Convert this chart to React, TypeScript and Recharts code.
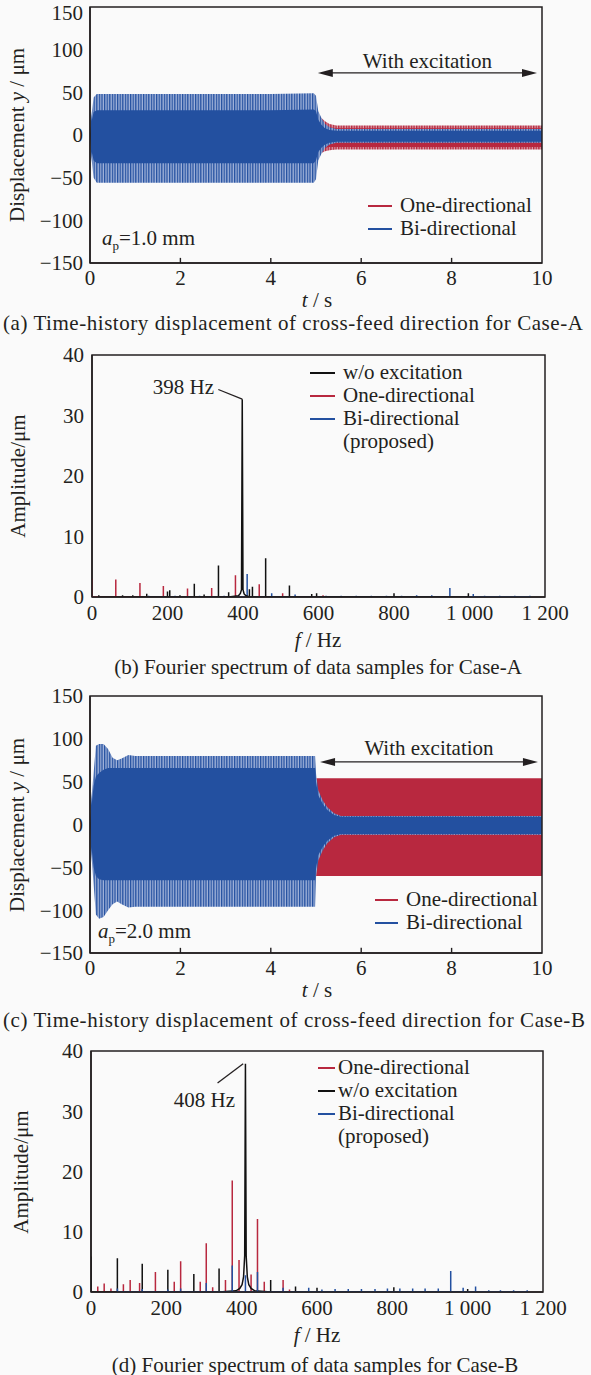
import React from 'react';
import {
  ComposedChart,
  Area,
  Line,
  XAxis,
  YAxis,
  ReferenceArea,
  ReferenceLine,
  Legend,
} from 'recharts';

const FONT = "'Liberation Serif', 'Times New Roman', serif";
const INK = '#231f20';
const RED = '#b8283f';
const BLUE = '#2350a0';
const BLACK = '#111111';

// ---------- (a) Case-A time history, envelopes (µm) ----------
const tA_blue = [0, 0.03, 0.08, 0.15, 1, 2, 3, 4, 4.95, 5.0, 5.05, 5.12, 5.2, 5.3, 5.45, 6, 8, 10];
const hiA_blueSpikes = [0, 22, 44, 48, 48, 48, 48, 48, 49, 46, 28, 20, 13, 9, 7, 7, 7, 7];
const loA_blueSpikes = [0, -26, -50, -56, -56, -56, -56, -56, -56, -52, -30, -22, -15, -11, -9, -9, -9, -9];
const hiA_blueCore = [0, 15, 27, 29, 29, 29, 29, 29, 30, 28, 18, 12, 8, 6, 5, 5, 5, 5];
const loA_blueCore = [0, -18, -30, -33, -33, -33, -33, -33, -33, -30, -20, -15, -11, -9, -8, -8, -8, -8];

const tA_red = [4.98, 5.05, 5.12, 5.2, 5.3, 5.45, 6, 8, 10];
const hiA_redSpikes = [30, 24, 20, 16, 13, 11, 11, 11, 11];
const loA_redSpikes = [-30, -23, -21, -19, -18, -17, -17, -17, -17];
const hiA_redCore = [22, 17, 14, 11, 9, 8, 8, 8, 8];
const loA_redCore = [-22, -18, -16, -15, -14, -14, -14, -14, -14];

// ---------- (c) Case-B time history ----------
const tC_blue = [0, 0.03, 0.08, 0.13, 0.2, 0.3, 0.4, 0.5, 0.6, 0.7, 0.85, 1, 2, 3, 4, 4.98, 5.0, 5.05, 5.15, 5.25, 5.4, 5.55, 6, 8, 10];
const hiC_blueSpikes = [0, 30, 60, 92, 94, 94, 88, 78, 75, 77, 81, 80, 80, 80, 80, 80, 60, 40, 28, 20, 13, 10, 10, 10, 10];
const loC_blueSpikes = [0, -35, -70, -105, -110, -108, -100, -93, -90, -93, -97, -96, -96, -96, -96, -96, -62, -42, -30, -22, -15, -12, -12, -12, -12];
const hiC_blueCore = [0, 20, 45, 56, 60, 64, 66, 66, 66, 66, 66, 66, 66, 66, 66, 66, 50, 34, 24, 17, 11, 9, 9, 9, 9];
const loC_blueCore = [0, -25, -50, -60, -64, -65, -65, -65, -65, -65, -65, -65, -65, -65, -65, -65, -52, -36, -26, -19, -13, -11, -11, -11, -11];

const tC_red = [5.0, 6, 8, 10];
const hiC_red = [54, 54, 54, 54];
const loC_red = [-60, -60, -60, -60];

const timeTicks = [0, 2, 4, 6, 8, 10];
const innerTimeTicks = [2, 4, 6, 8];
const dispTicks = [-150, -100, -50, 0, 50, 100, 150];

// ---------- (b) Case-A spectrum (peak frequency Hz, amplitude µm) ----------
const fB_red = [0, 63, 127, 189, 253, 317, 380, 443, 505, 612];
const aB_red = [3.0, 2.9, 2.3, 1.8, 1.4, 1.5, 3.6, 2.1, 0.6, 0.3];
const fB_black = [18, 81, 108, 145, 200, 206, 233, 271, 297, 335, 362, 417, 425, 460, 523, 582, 595, 800, 997];
const aB_black = [0.3, 0.3, 0.3, 0.55, 0.9, 1.1, 0.3, 2.2, 0.4, 5.2, 0.8, 1.3, 1.7, 6.4, 1.9, 0.5, 0.6, 0.6, 0.6];
const fB_blackPeak = [388, 393, 396, 398, 400, 403, 408];
const aB_blackPeak = [0.2, 0.6, 1.2, 32.7, 1.2, 0.5, 0.2];
const fB_blue = [150, 220, 285, 350, 411, 476, 538, 620, 660, 700, 740, 780, 820, 860, 900, 948, 1010, 1040, 1080, 1120, 1160];
const aB_blue = [0.2, 0.2, 0.2, 0.2, 3.8, 0.6, 0.4, 0.2, 0.2, 0.2, 0.2, 0.2, 0.2, 0.3, 0.3, 1.5, 0.5, 0.2, 0.2, 0.2, 0.2];

// ---------- (d) Case-B spectrum ----------
const fD_red = [18, 35, 53, 86, 104, 129, 171, 221, 238, 290, 306, 323, 357, 375, 393, 425, 442, 460, 510, 527];
const aD_red = [0.9, 1.4, 0.6, 1.3, 2.0, 1.5, 3.3, 1.7, 5.1, 1.7, 8.1, 0.8, 2.0, 18.5, 5.3, 2.9, 12.1, 1.7, 2.0, 0.4];
const fD_black = [0, 70, 136, 204, 273, 340, 477, 543, 600, 804, 1000];
const aD_black = [5.9, 5.6, 4.7, 3.7, 3.0, 3.9, 2.0, 0.9, 0.7, 0.8, 0.5];
const fD_blackPeak = [385, 395, 401, 405, 408, 410, 412, 415, 419, 425, 435];
const aD_blackPeak = [0.2, 0.6, 1.2, 2.5, 6, 37.9, 6, 2.5, 1.2, 0.6, 0.2];
const fD_blue = [70, 136, 204, 238, 306, 375, 410, 442, 510, 578, 613, 648, 683, 718, 754, 787, 820, 854, 887, 922, 955, 988, 1021, 1056, 1087, 1122, 1158];
const aD_blue = [0.6, 0.5, 0.4, 0.6, 1.5, 4.4, 2.8, 3.3, 0.7, 0.7, 0.4, 0.5, 0.5, 0.5, 0.5, 0.6, 0.6, 0.6, 0.6, 0.6, 3.5, 0.7, 0.9, 0.3, 0.3, 0.3, 0.3];

const freqTicks = [0, 200, 400, 600, 800, 1000, 1200];
const freqTickLabels = ['0', '200', '400', '600', '800', '1 000', '1 200'];
const ampTicks = [0, 10, 20, 30, 40];

// helpers that turn the arrays into the rows recharts wants
const band = (t: number[], lo: number[], hi: number[]) => t.map((x, i) => ({ t: x, v: [lo[i], hi[i]] }));
const stems = (f: number[], a: number[]) =>
  f.flatMap((x, i) => [{ f: x, a: 0 }, { f: x, a: a[i] }, { f: x, a: 0 }]);
const profile = (f: number[], a: number[]) => f.map((x, i) => ({ f: x, a: a[i] }));
const merge = (...parts: { f: number; a: number }[][]) => parts.flat().sort((p, q) => p.f - q.f);

const minus = (v: number) => (v < 0 ? `\u2212${Math.abs(v)}` : String(v));
const tickStyle = { fontSize: 21, fill: INK, fontFamily: FONT };

const Txt = ({ x, y, anchor = 'middle', rotate = false, children, size = 21, spacing = 0 }: any) => {
  const tx = anchor === 'middle' ? '-50%' : anchor === 'end' ? '-100%' : '0';
  return (
    <div
      style={{
        position: 'absolute',
        left: x,
        top: y,
        transform: `translate(${tx}, -50%)${rotate ? ' rotate(-90deg)' : ''}`,
        transformOrigin: rotate ? '50% 50%' : undefined,
        fontFamily: FONT,
        fontSize: size,
        letterSpacing: spacing,
        color: INK,
        whiteSpace: 'nowrap',
        lineHeight: 1,
      }}
    >
      {children}
    </div>
  );
};

const LegendBox = ({ items, lineW, gap, rowH }: any) => (
  <div style={{ fontFamily: FONT, fontSize: 21, color: INK, lineHeight: `${rowH}px` }}>
    {items.map((it: any) => (
      <div key={it.name} style={{ display: 'flex', alignItems: 'center', whiteSpace: 'nowrap' }}>
        <div
          style={{
            width: lineW,
            minWidth: lineW,
            height: 2,
            background: it.color || 'transparent',
            marginRight: gap,
            flex: 'none',
          }}
        />
        <span>{it.name}</span>
      </div>
    ))}
  </div>
);

const ArrowLine = (p: any) => {
  const { x1, y1, x2, y2 } = p;
  return (
    <g>
      <line x1={x1 + 8} y1={y1} x2={x2 - 8} y2={y2} stroke={INK} strokeWidth={1.3} />
      <polygon points={`${x1},${y1} ${x1 + 15},${y1 - 4} ${x1 + 15},${y1 + 4}`} fill={INK} />
      <polygon points={`${x2},${y2} ${x2 - 15},${y2 - 4} ${x2 - 15},${y2 + 4}`} fill={INK} />
    </g>
  );
};

const W = 591;

function TimeChart({ id, top, mt, plotH, left, right, blueSpikes, blueCore, redSpikes, redCore, arrowY, arrowFrom, arrowTo, labelOffset, legendTop, legendLeft, legendLineW }: any) {
  const height = mt + plotH + 50;
  return (
    <div style={{ position: 'absolute', left: 0, top }}>
      <ComposedChart width={W} height={height} margin={{ top: mt, right: W - right, bottom: 0, left: 0 }}>
        <defs>
          <pattern id={`${id}-bs`} width="2.6" height="8" patternUnits="userSpaceOnUse">
            <rect width="2.6" height="8" fill="#a3b4da" />
            <rect width="1.3" height="8" fill={BLUE} />
          </pattern>
          <pattern id={`${id}-rs`} width="2.6" height="8" patternUnits="userSpaceOnUse">
            <rect width="2.6" height="8" fill="#dba0aa" />
            <rect width="1.4" height="8" fill={RED} />
          </pattern>
        </defs>
        <XAxis
          type="number"
          dataKey="t"
          domain={[0, 10]}
          ticks={timeTicks}
          allowDataOverflow
          height={50}
          tick={tickStyle}
          tickLine={false}
          tickSize={0}
          tickMargin={7}
          axisLine={{ stroke: INK, strokeWidth: 1.5 }}
        />
        <YAxis
          type="number"
          domain={[-150, 150]}
          ticks={dispTicks}
          allowDataOverflow
          width={left}
          tick={tickStyle}
          tickFormatter={minus}
          tickLine={false}
          tickSize={0}
          tickMargin={7}
          axisLine={{ stroke: INK, strokeWidth: 1.5 }}
        />
        {redSpikes && (
          <Area data={redSpikes} dataKey="v" type="linear" stroke="none" fill={`url(#${id}-rs)`} fillOpacity={1} isAnimationActive={false} />
        )}
        <Area data={redCore} dataKey="v" type="linear" stroke="none" fill={RED} fillOpacity={1} isAnimationActive={false} />
        <Area data={blueSpikes} dataKey="v" type="linear" stroke="none" fill={`url(#${id}-bs)`} fillOpacity={1} isAnimationActive={false} />
        <Area data={blueCore} dataKey="v" type="linear" stroke="none" fill={BLUE} fillOpacity={1} isAnimationActive={false} />
        {innerTimeTicks.map((t) => (
          <ReferenceLine key={t} segment={[{ x: t, y: -150 }, { x: t, y: -144 }]} stroke={INK} strokeWidth={1.4} />
        ))}
        <ReferenceLine
          segment={[{ x: arrowFrom, y: arrowY }, { x: arrowTo, y: arrowY }]}
          shape={ArrowLine}
          label={{ value: 'With excitation', position: 'top', offset: labelOffset, fill: INK, fontSize: 21, fontFamily: FONT }}
        />
        <ReferenceArea x1={0} x2={10} y1={-150} y2={150} fill="none" stroke={INK} strokeWidth={1.5} />
        <Legend
          layout="horizontal"
          verticalAlign="middle"
          align="center"
          wrapperStyle={{ left: legendLeft, top: legendTop, width: 'auto' }}
          content={() => (
            <LegendBox
              items={[{ name: 'One-directional', color: RED }, { name: 'Bi-directional', color: BLUE }]}
              lineW={legendLineW}
              gap={8}
              rowH={23}
            />
          )}
        />
      </ComposedChart>
    </div>
  );
}

function SpecChart({ top, mt, plotH, left, right, series, legendItems, legendTop, legendLeft, legendLineW, legendGap, leader }: any) {
  const height = mt + plotH + 55;
  return (
    <div style={{ position: 'absolute', left: 0, top }}>
      <ComposedChart width={W} height={height} margin={{ top: mt, right: W - right, bottom: 0, left: 0 }}>
        <XAxis
          type="number"
          dataKey="f"
          domain={[0, 1200]}
          ticks={freqTicks}
          tickFormatter={(v: number) => freqTickLabels[freqTicks.indexOf(v)]}
          allowDataOverflow
          height={55}
          tick={tickStyle}
          tickLine={false}
          tickSize={0}
          tickMargin={8}
          axisLine={{ stroke: INK, strokeWidth: 1.5 }}
        />
        <YAxis
          type="number"
          domain={[0, 40]}
          ticks={ampTicks}
          allowDataOverflow
          width={left}
          tick={tickStyle}
          tickLine={false}
          tickSize={0}
          tickMargin={8}
          axisLine={{ stroke: INK, strokeWidth: 1.5 }}
        />
        {series.map((s: any) => (
          <Line
            key={s.name}
            data={s.data}
            dataKey="a"
            type="linear"
            stroke={s.color}
            strokeWidth={1.5}
            dot={false}
            activeDot={false}
            isAnimationActive={false}
          />
        ))}
        <ReferenceLine segment={leader} stroke={INK} strokeWidth={1.3} />
        <ReferenceArea x1={0} x2={1200} y1={0} y2={40} fill="none" stroke={INK} strokeWidth={1.5} />
        <Legend
          layout="horizontal"
          verticalAlign="middle"
          align="center"
          wrapperStyle={{ left: legendLeft, top: legendTop, width: 'auto' }}
          content={() => <LegendBox items={legendItems} lineW={legendLineW} gap={legendGap} rowH={23} />}
        />
      </ComposedChart>
    </div>
  );
}

export default function App() {
  const seriesB = [
    { name: 'One-directional', color: RED, data: merge(stems(fB_red, aB_red)) },
    { name: 'Bi-directional', color: BLUE, data: merge(stems(fB_blue, aB_blue)) },
    { name: 'w/o excitation', color: BLACK, data: merge(stems(fB_black, aB_black), profile(fB_blackPeak, aB_blackPeak)) },
  ];
  const seriesD = [
    { name: 'One-directional', color: RED, data: merge(stems(fD_red, aD_red)) },
    { name: 'w/o excitation', color: BLACK, data: merge(stems(fD_black, aD_black), profile(fD_blackPeak, aD_blackPeak)) },
    { name: 'Bi-directional', color: BLUE, data: merge(stems(fD_blue, aD_blue)) },
  ];

  return (
    <div style={{ position: 'absolute', left: 0, top: 0, width: W, height: 1375, background: '#fafafa', overflow: 'hidden' }}>
      <TimeChart
        id="ca"
        top={0}
        mt={7}
        plotH={256}
        left={90}
        right={542}
        blueSpikes={band(tA_blue, loA_blueSpikes, hiA_blueSpikes)}
        blueCore={band(tA_blue, loA_blueCore, hiA_blueCore)}
        redSpikes={band(tA_red, loA_redSpikes, hiA_redSpikes)}
        redCore={band(tA_red, loA_redCore, hiA_redCore)}
        arrowY={72.7}
        arrowFrom={5.04}
        arrowTo={9.89}
        labelOffset={5}
        legendTop={194}
        legendLeft={368}
        legendLineW={24}
      />
      <Txt x={17} y={135} rotate>Displacement <i>y</i> / μm</Txt>
      <Txt x={317} y={300}><i>t</i> / s</Txt>
      <Txt x={102} y={240} anchor="start"><i>a</i><sub style={{ fontSize: 13 }}>p</sub>=1.0 mm</Txt>
      <Txt x={3} y={323} anchor="start" spacing={0.55}>(a) Time-history displacement of cross-feed direction for Case-A</Txt>

      <SpecChart
        top={330}
        mt={25}
        plotH={242}
        left={92}
        right={545}
        series={seriesB}
        legendItems={[
          { name: 'w/o excitation', color: BLACK },
          { name: 'One-directional', color: RED },
          { name: 'Bi-directional', color: BLUE },
          { name: '(proposed)', color: null },
        ]}
        legendTop={31}
        legendLeft={310}
        legendLineW={25}
        legendGap={8}
        leader={[{ x: 334.6, y: 34.3 }, { x: 398, y: 32.7 }]}
      />
      <Txt x={18} y={476} rotate>Amplitude/μm</Txt>
      <Txt x={318} y={640}><i>f</i> / Hz</Txt>
      <Txt x={214} y={387} anchor="end">398 Hz</Txt>
      <Txt x={318} y={667}>(b) Fourier spectrum of data samples for Case-A</Txt>

      <TimeChart
        id="cc"
        top={680}
        mt={16}
        plotH={257}
        left={90}
        right={542}
        blueSpikes={band(tC_blue, loC_blueSpikes, hiC_blueSpikes)}
        blueCore={band(tC_blue, loC_blueCore, hiC_blueCore)}
        redSpikes={null}
        redCore={band(tC_red, loC_red, hiC_red)}
        arrowY={73}
        arrowFrom={5.09}
        arrowTo={9.91}
        labelOffset={7}
        legendTop={208}
        legendLeft={375}
        legendLineW={23}
      />
      <Txt x={17} y={825} rotate>Displacement <i>y</i> / μm</Txt>
      <Txt x={317} y={990}><i>t</i> / s</Txt>
      <Txt x={98} y={933} anchor="start"><i>a</i><sub style={{ fontSize: 13 }}>p</sub>=2.0 mm</Txt>
      <Txt x={3} y={1020} anchor="start" spacing={0.6}>(c) Time-history displacement of cross-feed direction for Case-B</Txt>

      <SpecChart
        top={1030}
        mt={21}
        plotH={241}
        left={91}
        right={543}
        series={seriesD}
        legendItems={[
          { name: 'One-directional', color: RED },
          { name: 'w/o excitation', color: BLACK },
          { name: 'Bi-directional', color: BLUE },
          { name: '(proposed)', color: null },
        ]}
        legendTop={26}
        legendLeft={318}
        legendLineW={17}
        legendGap={3}
        leader={[{ x: 336, y: 34.7 }, { x: 404, y: 37.9 }]}
      />
      <Txt x={21} y={1172} rotate>Amplitude/μm</Txt>
      <Txt x={317} y={1335}><i>f</i> / Hz</Txt>
      <Txt x={235} y={1100} anchor="end">408 Hz</Txt>
      <Txt x={315} y={1365}>(d) Fourier spectrum of data samples for Case-B</Txt>
    </div>
  );
}
